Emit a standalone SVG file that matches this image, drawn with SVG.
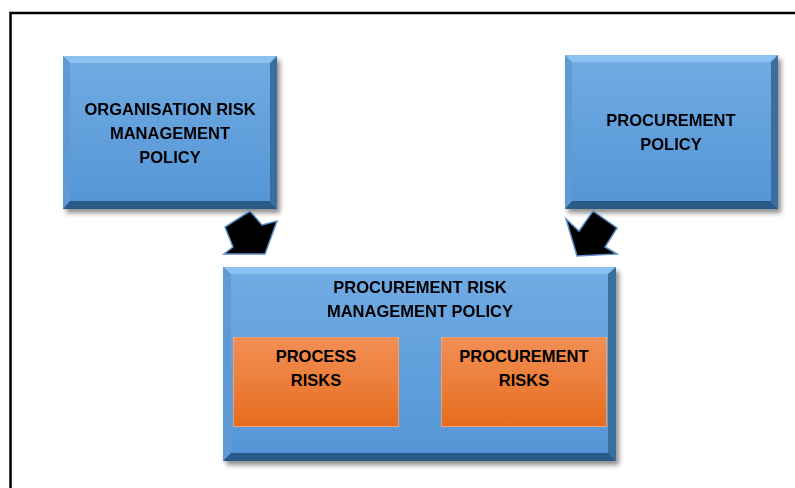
<svg xmlns="http://www.w3.org/2000/svg" width="795" height="488" viewBox="0 0 795 488">
  <defs>
    <linearGradient id="blueFace" x1="0" y1="0" x2="0" y2="1">
      <stop offset="0" stop-color="#71abe3"/>
      <stop offset="1" stop-color="#5395d6"/>
    </linearGradient>
    <linearGradient id="orangeFace" x1="0" y1="0" x2="0" y2="1">
      <stop offset="0" stop-color="#f28f55"/>
      <stop offset="1" stop-color="#e66d1f"/>
    </linearGradient>
    <filter id="shadow" x="-10%" y="-10%" width="130%" height="130%">
      <feGaussianBlur in="SourceAlpha" stdDeviation="2.5"/>
      <feOffset dx="3" dy="4" result="b"/>
      <feComponentTransfer><feFuncA type="linear" slope="0.45"/></feComponentTransfer>
      <feMerge><feMergeNode/><feMergeNode in="SourceGraphic"/></feMerge>
    </filter>
    <filter id="soft" x="-10%" y="-10%" width="120%" height="120%">
      <feGaussianBlur stdDeviation="0.5"/>
    </filter>
  </defs>
  <style>
    .label { font-family: "Liberation Sans", Arial, sans-serif; font-weight: bold; font-size: 16.5px; fill: #000; text-anchor: middle; }
    .bev-top { fill: #8cc2f0; }
    .bev-left { fill: #5f9ad4; }
    .bev-right { fill: #3a6d9f; }
    .bev-bottom { fill: #2c5a88; }
    .arrow { fill: #000; stroke: #5b8fc7; stroke-width: 1.5; stroke-linejoin: miter; }
    .frame { fill: none; stroke: #000; stroke-width: 2.5; }
  </style>

  <rect width="795" height="488" fill="#fff"/>
  <!-- outer frame: open at right and bottom -->
  <path class="frame" d="M10.5 490 V13 H797"/>

  <!-- organisation risk management policy -->
  <g id="org-policy" filter="url(#shadow)">
    <rect x="63" y="56" width="214" height="153" fill="url(#blueFace)"/>
    <polygon class="bev-top" points="63,56 277,56 270,63 70,63"/>
    <polygon class="bev-left" points="63,56 70,63 70,201 63,209"/>
    <polygon class="bev-right" points="277,56 277,209 270,201 270,63"/>
    <polygon class="bev-bottom" points="63,209 277,209 270,201 70,201"/>
    <text class="label" x="170" y="115">ORGANISATION RISK</text>
    <text class="label" x="170" y="139">MANAGEMENT</text>
    <text class="label" x="170" y="163">POLICY</text>
  </g>

  <!-- procurement policy -->
  <g id="procurement-policy" filter="url(#shadow)">
    <rect x="565" y="55" width="213" height="154" fill="url(#blueFace)"/>
    <polygon class="bev-top" points="565,55 778,55 771,62 572,62"/>
    <polygon class="bev-left" points="565,55 572,62 572,201 565,209"/>
    <polygon class="bev-right" points="778,55 778,209 771,201 771,62"/>
    <polygon class="bev-bottom" points="565,209 778,209 771,201 572,201"/>
    <text class="label" x="671" y="126">PROCUREMENT</text>
    <text class="label" x="671" y="150">POLICY</text>
  </g>

  <!-- procurement risk management policy, containing the two risk groups -->
  <g id="procurement-risk-policy" filter="url(#shadow)">
    <rect x="223" y="267" width="393" height="194" fill="url(#blueFace)"/>
    <polygon class="bev-top" points="223,267 616,267 608,274 231,274"/>
    <polygon class="bev-left" points="223,267 231,274 231,453 223,461"/>
    <polygon class="bev-right" points="616,267 616,461 608,453 608,274"/>
    <polygon class="bev-bottom" points="223,461 616,461 608,453 231,453"/>
    <text class="label" x="420" y="293">PROCUREMENT RISK</text>
    <text class="label" x="420" y="317">MANAGEMENT POLICY</text>
  </g>

  <g id="process-risks">
    <rect x="233" y="337" width="166" height="90" fill="url(#orangeFace)"/>
    <rect x="233.5" y="337.5" width="165" height="89" fill="none" stroke="#f4a070" stroke-width="1"/>
    <text class="label" x="316" y="362">PROCESS</text>
    <text class="label" x="316" y="386">RISKS</text>
  </g>

  <g id="procurement-risks">
    <rect x="441" y="337" width="166" height="90" fill="url(#orangeFace)"/>
    <rect x="441.5" y="337.5" width="165" height="89" fill="none" stroke="#f4a070" stroke-width="1"/>
    <text class="label" x="524" y="362">PROCUREMENT</text>
    <text class="label" x="524" y="386">RISKS</text>
  </g>

  <!-- block arrows feeding the combined policy -->
  <g id="connectors" filter="url(#soft)">
    <polygon class="arrow" points="250,211 262,225 277,221 265,254 224,254 233,247 225,227"/>
    <polygon class="arrow" points="593,211 617,228 605,247 617,254 577,256 566,219 579,231"/>
  </g>
</svg>
